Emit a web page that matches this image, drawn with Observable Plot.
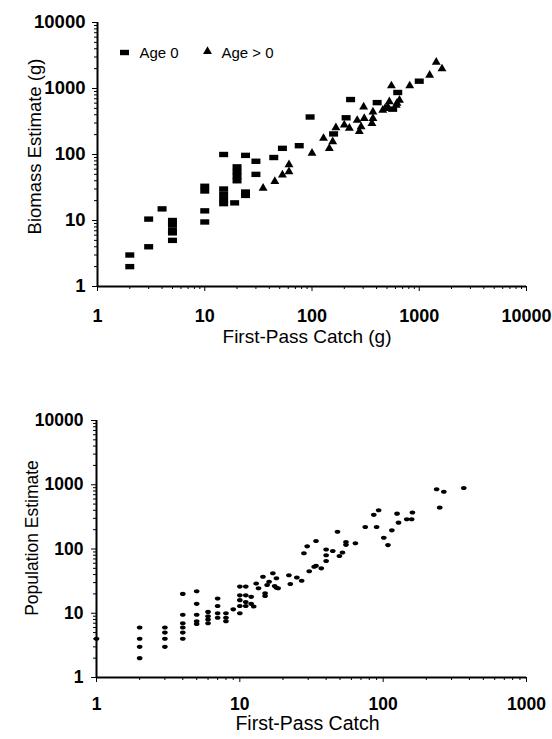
<!DOCTYPE html>
<html><head><meta charset="utf-8">
<script src="https://cdn.jsdelivr.net/npm/d3@7"></script>
<script src="https://cdn.jsdelivr.net/npm/@observablehq/plot@0.6"></script>
<style>
html,body{margin:0;padding:0;background:#fff}
#chart{width:552px;height:739px;position:relative;font-family:"Liberation Sans",Arial,sans-serif}
#chart svg{display:block}
</style></head><body><div id="chart"></div>
<script>
// ---- Top panel: biomass ----
const biomassTitleX = "First-Pass Catch (g)";
const biomassTitleY = "Biomass Estimate (g)";
const biomassTicks = [1, 10, 100, 1000, 10000];
const legendLabels = ["Age 0", "Age > 0"];
// [first-pass catch (g), biomass estimate (g)]
const age0 = [
  [2,3],[2,2],[3,10.5],[3,4],[4,15],[5,10],[5,8.5],[5,7],[5,6.5],[5,5],
  [10,33],[10,28],[10,14],[10,9.5],[15,100],[15,30],[15,25],[15,21],[15,18],
  [19,18.5],[20,65],[20,55],[20,47],[20,40],[24,97],[24,27],[24,24],[30,79],[30,50],
  [44,90],[53,124],[76,136],[96,370],[159,205],[208,360],[229,680],[405,611],
  [565,486],[630,870],[1000,1290]
];
const ageOlder = [
  [35,31],[45,39],[53,49],[61,70],[61,55],[100,105],[128,176],[145,124],[156,157],
  [167,255],[200,280],[223,250],[264,330],[287,263],[276,223],[303,525],[307,352],
  [362,295],[370,443],[370,352],[457,470],[480,500],[509,525],[526,630],[610,560],
  [620,600],[654,664],[550,1100],[815,1100],[1250,1590],[1440,2500],[1630,1990]
];

// ---- Bottom panel: population ----
const popTitleX = "First-Pass Catch";
const popTitleY = "Population Estimate";
const popTicksX = [1, 10, 100, 1000];
const popTicksY = [1, 10, 100, 1000, 10000];
// [first-pass catch, population estimate]
const population = [
  [1,4],
  [2,6],[2,4],[2,3],[2,2],
  [3,6],[3,5],[3,4],[3,3],
  [4,20],[4,9.5],[4,7],[4,6],[4,5],[4,4],
  [5,22],[5,14],[5,9.5],[5,7.5],[5,6.8],
  [6,10.5],[6,9],[6,8],[6,7],
  [7,17],[7,13],[7,10],[7,8.5],
  [8,10],[8,8.5],[8,7.5],
  [9,11.5],
  [10,10],[10,19],[10,16],[10,13],[10,26],
  [11,19],[11,15],[11,13],[11,26],
  [12,18],[12,14],[12.5,12.7],
  [13,29],[13.5,24.5],[14.5,37],[15,20.5],[15,18.5],[15.5,27.5],[16,31],
  [17,42],[17.5,26.5],[18,35],[18.5,24.5],[18,25],
  [22,39],[22.5,28.5],[25,36],[27,32],[28,86],[29.5,110],[30.5,45],[33,53],
  [34,133],[34,55],[37,50],[40,98],[40,80],[40,65],[44.5,93],[48,186],[49.5,78],
  [52,88],[55,128],[55,116],[64,123],[75,220],[86,340],[93,400],[90,220],
  [101,150],[108,115],[115,195],[125,355],[128,257],[146,290],[158,290],[160,370],
  [236,850],[265,780],[248,440],[365,890]
];

// minor log ticks (2..9 within each decade)
function minorTicks(lo, hi) {
  const out = [];
  for (let p = lo; p < hi; p *= 10) for (let m = 2; m <= 9; m++) out.push(m * p);
  return out;
}

const rectSymbol = {
  draw(ctx, size) {
    const r = Math.sqrt(size / Math.PI), w = r * 1.5, h = r * 0.9;
    ctx.moveTo(-w, -h); ctx.lineTo(w, -h); ctx.lineTo(w, h); ctx.lineTo(-w, h); ctx.closePath();
  }
};
const ellipseSymbol = {
  draw(ctx, size) {
    const r = Math.sqrt(size / Math.PI), rx = r * 1.2, ry = r * 0.85, k = 0.5523;
    ctx.moveTo(rx, 0);
    ctx.bezierCurveTo(rx, ry * k, rx * k, ry, 0, ry);
    ctx.bezierCurveTo(-rx * k, ry, -rx, ry * k, -rx, 0);
    ctx.bezierCurveTo(-rx, -ry * k, -rx * k, -ry, 0, -ry);
    ctx.bezierCurveTo(rx * k, -ry, rx, -ry * k, rx, 0);
    ctx.closePath();
  }
};

const font = "Liberation Sans, Arial, sans-serif";

const topChart = Plot.plot({
  width: 552, height: 360,
  marginLeft: 97, marginRight: 26, marginTop: 22, marginBottom: 74,
  style: {fontFamily: font, color: "#000", background: "#fff", overflow: "visible"},
  x: {type: "log", domain: [biomassTicks[0], biomassTicks[biomassTicks.length - 1]], label: null},
  y: {type: "log", domain: [biomassTicks[0], biomassTicks[biomassTicks.length - 1]], label: null},
  marks: [
    Plot.axisX({ticks: minorTicks(1, 10000), tickSize: 3, tickFormat: () => "", label: null}),
    Plot.axisY({ticks: minorTicks(1, 10000), tickSize: 3, tickFormat: () => "", label: null}),
    Plot.axisX({ticks: biomassTicks, tickSize: 5, tickPadding: 18, tickFormat: d => String(d),
      fontSize: 18, fontWeight: "bold", label: null}),
    Plot.axisY({ticks: biomassTicks, tickSize: 5, tickPadding: 7, tickFormat: d => String(d),
      fontSize: 18.5, fontWeight: "bold", label: null}),
    Plot.ruleX([biomassTicks[0]], {strokeWidth: 2}),
    Plot.ruleY([biomassTicks[0]], {strokeWidth: 2}),
    Plot.dot(age0, {x: d => d[0], y: d => d[1], symbol: rectSymbol, r: 3, fill: "#000", stroke: "none"}),
    Plot.dot(ageOlder, {x: d => d[0], y: d => d[1], symbol: "triangle", r: 3.3, fill: "#000", stroke: "none"}),
    // legend
    Plot.dot([legendLabels[0]], {frameAnchor: "top-left", dx: 27, dy: 30, symbol: rectSymbol, r: 3, fill: "#000", stroke: "none"}),
    Plot.text([legendLabels[0]], {frameAnchor: "top-left", dx: 42, dy: 31, textAnchor: "start", lineAnchor: "middle", fontSize: 15}),
    Plot.dot([legendLabels[1]], {frameAnchor: "top-left", dx: 110, dy: 29, symbol: "triangle", r: 3.3, fill: "#000", stroke: "none"}),
    Plot.text([legendLabels[1]], {frameAnchor: "top-left", dx: 124, dy: 31, textAnchor: "start", lineAnchor: "middle", fontSize: 15}),
    // titles
    Plot.text([biomassTitleX], {frameAnchor: "bottom", dx: -5, dy: 50, textAnchor: "middle", lineAnchor: "middle", fontSize: 19}),
    Plot.text([biomassTitleY], {frameAnchor: "left", dx: -62, dy: -8, rotate: -90, textAnchor: "middle", lineAnchor: "middle", fontSize: 18.5})
  ]
});

const bottomChart = Plot.plot({
  width: 552, height: 379,
  marginLeft: 96, marginRight: 26, marginTop: 60, marginBottom: 62,
  style: {fontFamily: font, color: "#000", background: "#fff", overflow: "visible"},
  x: {type: "log", domain: [popTicksX[0], popTicksX[popTicksX.length - 1]], label: null},
  y: {type: "log", domain: [popTicksY[0], popTicksY[popTicksY.length - 1]], label: null},
  marks: [
    Plot.axisX({ticks: minorTicks(1, 1000), tickSize: 3, tickFormat: () => "", label: null}),
    Plot.axisY({ticks: minorTicks(1, 10000), tickSize: 3, tickFormat: () => "", label: null}),
    Plot.axisX({ticks: popTicksX, tickSize: 5, tickPadding: 15, tickFormat: d => String(d),
      fontSize: 17.5, fontWeight: "bold", label: null}),
    Plot.axisY({ticks: popTicksY, tickSize: 5, tickPadding: 8, tickFormat: d => String(d),
      fontSize: 17.5, fontWeight: "bold", label: null}),
    Plot.ruleX([popTicksX[0]], {strokeWidth: 2}),
    Plot.ruleY([popTicksY[0]], {strokeWidth: 2}),
    Plot.dot(population, {x: d => d[0], y: d => d[1], symbol: ellipseSymbol, r: 2.4, fill: "#000", stroke: "none"}),
    Plot.text([popTitleX], {frameAnchor: "bottom", dx: -4, dy: 46, textAnchor: "middle", lineAnchor: "middle", fontSize: 19.5}),
    Plot.text([popTitleY], {frameAnchor: "left", dx: -64, dy: -11, rotate: -90, textAnchor: "middle", lineAnchor: "middle", fontSize: 17.5})
  ]
});

const root = document.getElementById("chart");
root.appendChild(topChart);
root.appendChild(bottomChart);
</script>
</body></html>
